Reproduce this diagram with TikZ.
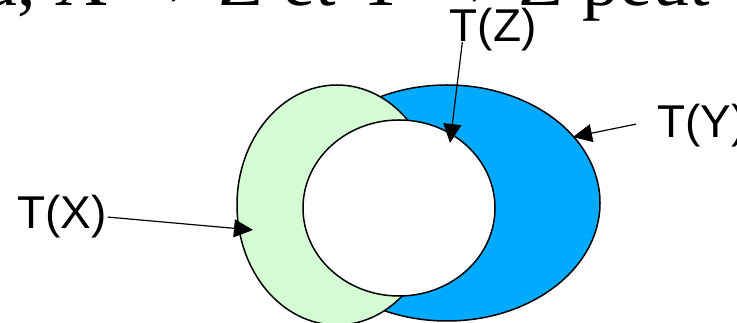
\documentclass[tikz,border=0pt]{standalone}
\usepackage{fontspec}
\setmainfont{Liberation Serif}
\setsansfont{Liberation Sans}
\usetikzlibrary{arrows.meta,calc}
\definecolor{setY}{RGB}{0,170,255}
\definecolor{setX}{RGB}{212,251,212}

\begin{document}
\begin{tikzpicture}[x=1pt,y=1pt,
  lbl/.style={font=\sffamily\fontsize{46}{46}\selectfont, inner sep=1pt},
  ptr/.style={-{Triangle[length=19pt,width=18pt]}, line width=1.2pt}]
\useasboundingbox (0,0) rectangle (737,323); \clip (0,0) rectangle (737,323);
\node[anchor=base west, inner sep=0pt, font=\fontsize{74}{74}\selectfont] (head) at (-16,317) {a, X → Z et Y → Z peut};
% the three sets
\draw[fill=setY, line width=1.5pt] (447,120) ellipse (153 and 118);
\draw[fill=setX, line width=1.5pt] (337,118) ellipse (100 and 120);
\draw[fill=white, line width=1.5pt] (399,115) ellipse (96 and 88);
\coordinate (pX) at (253,93); \coordinate (pZ) at (450,180); \coordinate (pY) at (573,186);
\node[lbl, anchor=base] (tX) at (62,94) {T(X)};
\node[lbl, anchor=base] (tZ) at (493,281) {T(Z)};
\node[lbl, anchor=base west] (tY) at (656,185) {T(Y)};
\draw[ptr] (tX.east) -- (pX);
\draw[ptr] ([xshift=14pt]tZ.base west) -- (pZ);
\draw[ptr] ([xshift=-20pt,yshift=2pt]tY.west) -- (pY);
\end{tikzpicture}
\end{document}
